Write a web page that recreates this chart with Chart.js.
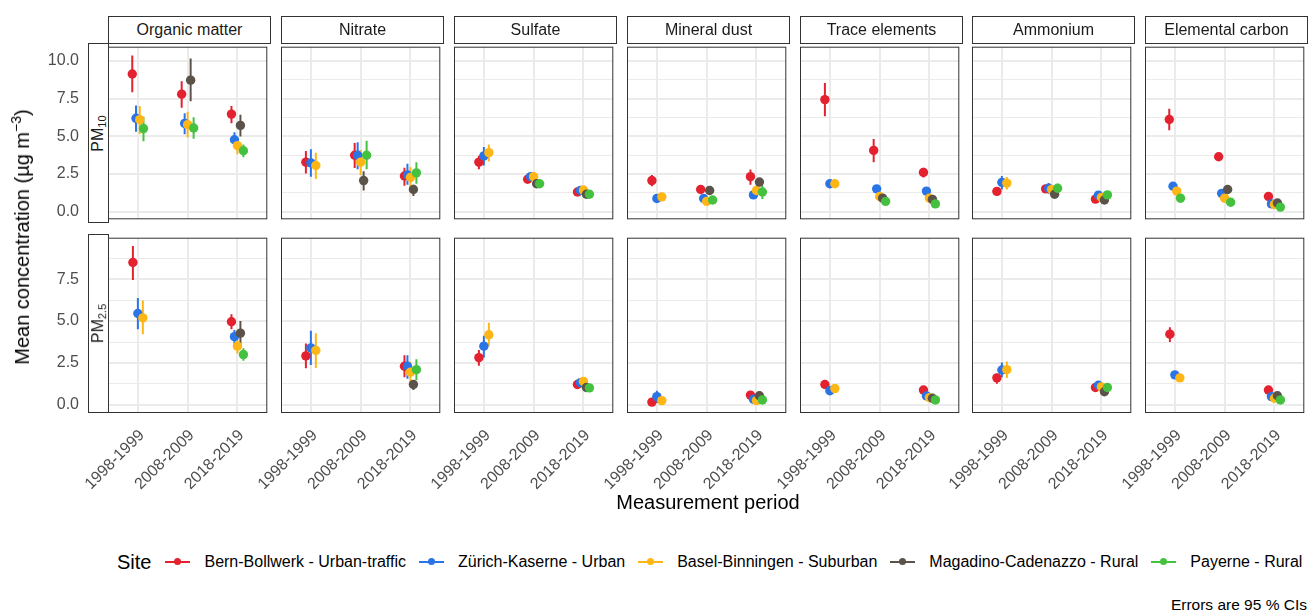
<!DOCTYPE html>
<html>
<head>
<meta charset="utf-8">
<script src="https://cdn.jsdelivr.net/npm/chart.js@4.4.1/dist/chart.umd.min.js"></script>
<style>
  body { margin: 0; background: #fff; font-family: "Liberation Sans", Arial, sans-serif; }
  #fig { position: relative; width: 1309px; height: 613px; overflow: hidden; }
  #fig canvas { position: absolute; }
  .strip { position: absolute; box-sizing: border-box; border: 1px solid #333; background: #fff;
           color: #1a1a1a; font-size: 16px; display: flex; align-items: center; justify-content: center; z-index: 2; }
  .rowstrip span { transform: rotate(-90deg); white-space: nowrap; display: inline-block; }
  .rowstrip sub { font-size: 11px; vertical-align: -3px; }
  .title { position: absolute; font-size: 20px; color: #000; white-space: nowrap; transform: translate(-50%, -50%); }
  .ytitle { transform: translate(-50%, -50%) rotate(-90deg); }
  .ytitle sup { font-size: 14px; vertical-align: 8px; }
  #legend { position: absolute; left: 117px; top: 550px; height: 24px; display: flex; align-items: center; white-space: nowrap; }
  #legend .lt { font-size: 20px; margin-right: 14px; }
  #legend .key { position: relative; width: 25px; height: 2px; margin-right: 14px; }
  #legend .key i { position: absolute; left: 9px; top: -3px; width: 7px; height: 7px; border-radius: 50%; }
  #legend .lab { font-size: 16px; margin-right: 13px; color: #000; }
  #caption { position: absolute; right: 2px; top: 596px; font-size: 15.5px; color: #000; white-space: nowrap; }
</style>
</head>
<body>
<div id="fig"></div>
<script>
// ---- data ----
const sites = ['Bern-Bollwerk - Urban-traffic', 'Zürich-Kaserne - Urban', 'Basel-Binningen - Suburban',
               'Magadino-Cadenazzo - Rural', 'Payerne - Rural'];
const periods = ['1998-1999', '2008-2009', '2018-2019'];
const components = ['Organic matter', 'Nitrate', 'Sulfate', 'Mineral dust', 'Trace elements', 'Ammonium', 'Elemental carbon'];
const fractions = ['PM<sub>10</sub>', 'PM<sub>2.5</sub>'];
const yTicksPM10 = [0, 2.5, 5, 7.5, 10];
const yTicksPM25 = [0, 2.5, 5, 7.5];

// each panel: rows = sites, cols = periods, cell = [mean, lower, upper] (null = no data)
const omPM10 = [
  [[9.13, 7.91, 10.36], [7.79, 6.89, 8.64], [6.47, 5.87, 7.00]],
  [[6.19, 5.30, 7.04], [5.85, 5.13, 6.53], [4.77, 4.28, 5.26]],
  [[6.10, 5.15, 7.00], [5.77, 4.91, 6.62], [4.38, 3.81, 4.87]],
  [null, [8.72, 7.32, 10.15], [5.72, 4.98, 6.43]],
  [[5.51, 4.66, 6.30], [5.55, 4.83, 6.26], [4.04, 3.60, 4.45]]
];
const nitPM10 = [
  [[3.28, 2.53, 4.02], [3.74, 2.89, 4.55], [2.36, 1.72, 2.91]],
  [[3.23, 2.32, 4.13], [3.74, 2.81, 4.60], [2.43, 1.79, 3.17]],
  [[3.06, 2.17, 3.91], [3.28, 2.43, 4.09], [2.26, 1.47, 2.96]],
  [null, [2.06, 1.40, 2.68], [1.47, 1.04, 1.79]],
  [null, [3.74, 2.81, 4.70], [2.57, 1.85, 3.28]]
];
const sulPM10 = [
  [[3.28, 2.81, 3.70], [2.15, 1.95, 2.32], [1.30, 1.20, 1.40]],
  [[3.70, 3.06, 4.28], [2.32, 2.05, 2.53], [1.40, 1.25, 1.55]],
  [[3.91, 3.32, 4.45], [2.32, 2.05, 2.55], [1.43, 1.19, 1.64]],
  [null, [1.85, 1.72, 2.00], [1.15, 1.05, 1.25]],
  [null, [1.85, 1.72, 2.00], [1.15, 1.05, 1.25]]
];
const mdPM10 = [
  [[2.06, 1.68, 2.43], [1.47, 1.35, 1.60], [2.32, 1.79, 2.79]],
  [[0.87, 0.78, 0.97], [0.87, 0.75, 0.99], [1.11, 0.85, 1.36]],
  [[0.98, 0.88, 1.08], [0.68, 0.55, 0.80], [1.40, 1.04, 1.68]],
  [null, [1.40, 1.28, 1.52], [1.96, 1.72, 2.21]],
  [null, [0.77, 0.65, 0.89], [1.30, 0.83, 1.72]]
];
const tePM10 = [
  [[7.43, 6.32, 8.53], [4.06, 3.28, 4.81], [2.60, 2.26, 2.91]],
  [[1.85, 1.75, 1.95], [1.51, 1.42, 1.60], [1.36, 1.25, 1.47]],
  [[1.85, 1.75, 1.95], [1.00, 0.90, 1.10], [0.89, 0.80, 0.98]],
  [null, [0.89, 0.80, 0.98], [0.81, 0.72, 0.90]],
  [null, [0.68, 0.60, 0.76], [0.51, 0.43, 0.59]]
];
const amPM10 = [
  [[1.34, 1.22, 1.46], [1.51, 1.38, 1.64], [0.83, 0.75, 0.91]],
  [[1.94, 1.47, 2.36], [1.55, 1.19, 1.89], [1.09, 0.98, 1.20]],
  [[1.89, 1.47, 2.30], [1.47, 1.30, 1.64], [0.94, 0.84, 1.04]],
  [null, [1.15, 1.05, 1.25], [0.77, 0.68, 0.86]],
  [null, [1.55, 1.26, 1.85], [1.11, 1.00, 1.22]]
];
const ecPM10 = [
  [[6.11, 5.40, 6.83], [3.64, 3.52, 3.76], [1.00, 0.90, 1.10]],
  [[1.68, 1.58, 1.78], [1.21, 1.11, 1.31], [0.51, 0.43, 0.59]],
  [[1.36, 1.26, 1.46], [0.89, 0.80, 0.98], [0.47, 0.40, 0.54]],
  [null, [1.47, 1.37, 1.57], [0.57, 0.49, 0.65]],
  [[0.89, 0.80, 0.98], [0.62, 0.55, 0.69], [0.30, 0.24, 0.36]]
];
const omPM25 = [
  [[8.50, 7.45, 9.49], null, [4.96, 4.51, 5.41]],
  [[5.45, 4.51, 6.38], null, [4.07, 3.60, 4.47]],
  [[5.19, 4.22, 6.23], null, [3.50, 3.07, 3.89]],
  [null, null, [4.28, 3.46, 5.00]],
  [null, null, [3.00, 2.63, 3.37]]
];
const nitPM25 = [
  [[2.92, 2.18, 3.66], null, [2.30, 1.65, 2.96]],
  [[3.40, 2.37, 4.42], null, [2.30, 1.56, 2.96]],
  [[3.25, 2.20, 4.28], null, [1.95, 1.17, 2.57]],
  [null, null, [1.21, 0.88, 1.46]],
  [null, null, [2.10, 1.46, 2.72]]
];
const sulPM25 = [
  [[2.82, 2.33, 3.27], null, [1.21, 1.12, 1.30]],
  [[3.50, 2.82, 4.12], null, [1.32, 1.20, 1.44]],
  [[4.18, 3.50, 4.90], null, [1.40, 1.26, 1.54]],
  [null, null, [1.03, 0.95, 1.11]],
  [null, null, [1.01, 0.93, 1.09]]
];
const mdPM25 = [
  [[0.16, 0.08, 0.24], null, [0.58, 0.50, 0.66]],
  [[0.49, 0.10, 0.84], null, [0.33, 0.22, 0.44]],
  [[0.25, 0.17, 0.33], null, [0.25, 0.15, 0.35]],
  [null, null, [0.54, 0.46, 0.62]],
  [null, null, [0.29, 0.21, 0.37]]
];
const tePM25 = [
  [[1.21, 1.13, 1.29], null, [0.88, 0.80, 0.96]],
  [[0.84, 0.76, 0.92], null, [0.53, 0.45, 0.61]],
  [[0.97, 0.89, 1.05], null, [0.43, 0.35, 0.51]],
  [null, null, [0.39, 0.32, 0.46]],
  [null, null, [0.29, 0.22, 0.36]]
];
const amPM25 = [
  [[1.61, 1.26, 1.85], null, [1.03, 0.94, 1.12]],
  [[2.08, 1.65, 2.53], null, [1.17, 1.06, 1.28]],
  [[2.10, 1.60, 2.59], null, [1.07, 0.96, 1.18]],
  [null, null, [0.78, 0.70, 0.86]],
  [null, null, [1.03, 0.94, 1.12]]
];
const ecPM25 = [
  [[4.22, 3.75, 4.63], null, [0.88, 0.80, 0.96]],
  [[1.79, 1.70, 1.88], null, [0.49, 0.42, 0.56]],
  [[1.61, 1.52, 1.70], null, [0.39, 0.32, 0.46]],
  [null, null, [0.54, 0.46, 0.62]],
  [null, null, [0.29, 0.22, 0.36]]
];

const panelsPM10 = [omPM10, nitPM10, sulPM10, mdPM10, tePM10, amPM10, ecPM10];
const panelsPM25 = [omPM25, nitPM25, sulPM25, mdPM25, tePM25, amPM25, ecPM25];

// ---- style / layout ----
const siteColors = ['#e3212f', '#2a74e6', '#fdb616', '#5b5249', '#44c23f'];
const dodgeWidth = 0.3;
const FONT = '"Liberation Sans", Arial, sans-serif';
Chart.defaults.font.family = FONT;

const rows = [
  { top: 43, h: 180, min: -0.51, max: 10.94, ticks: yTicksPM10, panels: panelsPM10 },
  { top: 234, h: 179, min: -0.49, max: 9.98, ticks: yTicksPM25, panels: panelsPM25 }
];
const plotW = 163;
const colLeft = c => Math.round(108.3 + c * 172.8);

const fig = document.getElementById('fig');

const panelBorder = {
  id: 'panelBorder',
  afterDraw(chart) {
    const a = chart.chartArea, ctx = chart.ctx;
    ctx.save();
    ctx.strokeStyle = '#333';
    ctx.lineWidth = 1;
    ctx.strokeRect(a.left + 0.5, a.top + 0.5, a.right - a.left - 1, a.bottom - a.top - 1);
    ctx.restore();
  }
};

function buildDatasets(panel) {
  // dodge: spread the sites present in each period over dodgeWidth
  const offsets = periods.map((p, j) => {
    const present = [];
    panel.forEach((row, i) => { if (row[j]) present.push(i); });
    const m = {};
    present.forEach((i, k) => { m[i] = -dodgeWidth / 2 + (k + 0.5) * dodgeWidth / present.length; });
    return m;
  });
  const ds = [];
  sites.forEach((site, i) => {
    const pts = [], bars = [];
    periods.forEach((p, j) => {
      const v = panel[i][j];
      if (!v) return;
      const x = j + 1 + offsets[j][i];
      pts.push({ x: x, y: v[0] });
      bars.push({ x: x, y: v[1] }, { x: x, y: v[2] }, { x: x, y: null });
    });
    ds.push({ type: 'line', data: bars, borderColor: siteColors[i], borderWidth: 2, pointRadius: 0,
              spanGaps: false, borderCapStyle: 'butt', order: 20 - i });
    ds.push({ type: 'scatter', data: pts, backgroundColor: siteColors[i], borderWidth: 0,
              pointRadius: 4.7, order: 10 - i });
  });
  return ds;
}

function zeroPad(s) { s.paddingLeft = s.paddingRight = s.paddingTop = s.paddingBottom = 0; }

rows.forEach((row, r) => {
  const isBottom = r === rows.length - 1;
  const majors = row.ticks;
  const grid = [];
  majors.forEach(v => { grid.push(v); if (v + 1.25 < row.max) grid.push(v + 1.25); });

  row.panels.forEach((panel, c) => {
    const plotLeft = colLeft(c);
    const yAxisW = c === 0 ? plotLeft : 70;
    const xAxisH = isBottom ? 110 : 0;
    const canvas = document.createElement('canvas');
    const w = yAxisW + plotW + 1;
    const h = 1 + row.h + (isBottom ? xAxisH : 1);
    canvas.width = w; canvas.height = h;
    canvas.style.left = (plotLeft - yAxisW) + 'px';
    canvas.style.top = (row.top - 1) + 'px';
    canvas.style.width = w + 'px'; canvas.style.height = h + 'px';
    fig.appendChild(canvas);

    new Chart(canvas, {
      type: 'scatter',
      data: { datasets: buildDatasets(panel) },
      options: {
        responsive: false,
        animation: false,
        devicePixelRatio: 1,
        events: [],
        layout: { padding: { top: 1, right: 1, left: 0, bottom: isBottom ? 0 : 1 } },
        plugins: { legend: { display: false }, tooltip: { enabled: false } },
        scales: {
          x: {
            type: 'linear', min: 0.4, max: 3.6,
            afterBuildTicks: s => { s.ticks = periods.map((p, j) => ({ value: j + 1 })); },
            grid: { color: '#ebebeb', lineWidth: 2, drawTicks: false },
            border: { display: false },
            ticks: {
              display: isBottom, autoSkip: false, minRotation: 45, maxRotation: 45,
              padding: 13, labelOffset: 4, color: '#4d4d4d', font: { size: 16 },
              callback: v => periods[Math.round(v) - 1]
            },
            afterFit: s => { s.height = xAxisH; zeroPad(s); }
          },
          y: {
            type: 'linear', min: row.min, max: row.max,
            afterBuildTicks: s => { s.ticks = grid.map(v => ({ value: v })); },
            grid: {
              color: '#ebebeb', drawTicks: false,
              lineWidth: ctx => (ctx.tick && majors.includes(ctx.tick.value)) ? 2 : 1
            },
            border: { display: false },
            ticks: {
              display: c === 0, padding: 29, color: '#4d4d4d', font: { size: 16 },
              callback: v => majors.includes(v) ? v.toFixed(1) : ''
            },
            afterFit: s => { s.width = yAxisW; zeroPad(s); }
          }
        }
      },
      plugins: [panelBorder]
    });

    // column strips (top row only)
    if (r === 0) {
      const st = document.createElement('div');
      st.className = 'strip';
      st.style.left = plotLeft + 'px'; st.style.top = '16px';
      st.style.width = plotW + 'px'; st.style.height = '28px';
      st.textContent = components[c];
      fig.appendChild(st);
    }
  });

  // row strip on the left
  const rs = document.createElement('div');
  rs.className = 'strip rowstrip';
  rs.style.left = '88px'; rs.style.top = row.top + 'px';
  rs.style.width = '21px'; rs.style.height = row.h + 'px';
  rs.innerHTML = '<span>' + fractions[r] + '</span>';
  fig.appendChild(rs);
});

// axis titles
const yt = document.createElement('div');
yt.className = 'title ytitle';
yt.style.left = '21px'; yt.style.top = '237px';
yt.innerHTML = 'Mean concentration (µg m<sup>−3</sup>)';
fig.appendChild(yt);

const xt = document.createElement('div');
xt.className = 'title';
xt.style.left = '708px'; xt.style.top = '502px';
xt.textContent = 'Measurement period';
fig.appendChild(xt);

// legend
const lg = document.createElement('div');
lg.id = 'legend';
let html = '<span class="lt">Site</span>';
sites.forEach((s, i) => {
  html += '<span class="key" style="background:' + siteColors[i] + '"><i style="background:' + siteColors[i] + '"></i></span>' +
          '<span class="lab">' + s + '</span>';
});
lg.innerHTML = html;
fig.appendChild(lg);

const cap = document.createElement('div');
cap.id = 'caption';
cap.textContent = 'Errors are 95 % CIs';
fig.appendChild(cap);
</script>
</body>
</html>
